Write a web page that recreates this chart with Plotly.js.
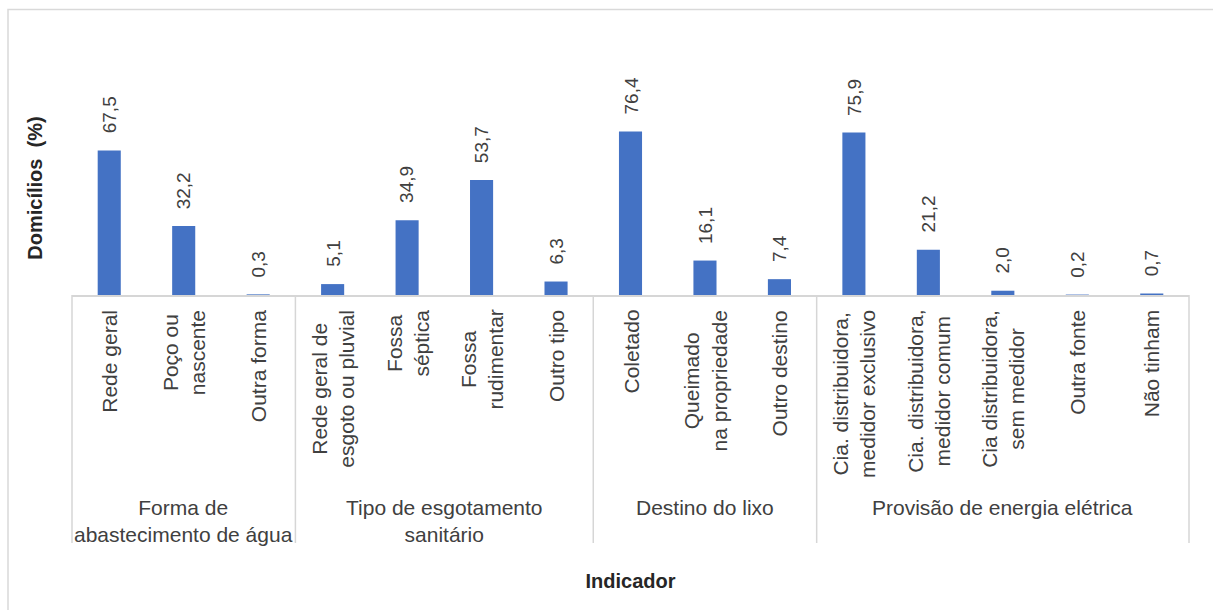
<!DOCTYPE html>
<html>
<head>
<meta charset="utf-8">
<script src="https://cdn.plot.ly/plotly-3.0.1.min.js"></script>
<style>
  html, body { margin: 0; padding: 0; background: #ffffff; }
  #chart { width: 1213px; height: 610px; }
</style>
</head>
<body>
<div id="chart"></div>
<script>
// ---- Data ----
const groups = [
  'Forma de<br>abastecimento de água',
  'Tipo de esgotamento<br>sanitário',
  'Destino do lixo',
  'Provisão de energia elétrica'
];
const groupSizes = [3, 4, 3, 5];
const items = [
  'Rede geral',
  'Poço ou<br>nascente',
  'Outra forma',
  'Rede geral de<br>esgoto ou pluvial',
  'Fossa<br>séptica',
  'Fossa<br>rudimentar',
  'Outro tipo',
  'Coletado',
  'Queimado<br>na propriedade',
  'Outro destino',
  'Cia. distribuidora,<br>medidor exclusivo',
  'Cia. distribuidora,<br>medidor comum',
  'Cia distribuidora,<br>sem medidor',
  'Outra fonte',
  'Não tinham'
];
const values = [67.5, 32.2, 0.3, 5.1, 34.9, 53.7, 6.3, 76.4, 16.1, 7.4, 75.9, 21.2, 2.0, 0.2, 0.7];
const yTitle = 'Domicílios\u00A0 (%)';
const xTitle = 'Indicador';

// ---- Layout geometry (pixels) ----
const W = 1213, H = 610;
const L = 72, R = 1189, T = 81, B = 295;
const px2x = p => (p - L) / (R - L);
const py2y = p => (B - p) / (B - T);

const FONT = 'Liberation Sans, Arial, sans-serif';
const TXT = '#404040';
const LINE = '#d6d6d6';
const n = items.length;

const annotations = [];
const shapes = [];

// data labels and category labels
items.forEach((it, i) => {
  annotations.push({
    x: it, y: values[i], xref: 'x', yref: 'y',
    text: values[i].toFixed(1).replace('.', ','),
    showarrow: false, textangle: -90,
    xanchor: 'center', yanchor: 'bottom', yshift: 15,
    font: { family: FONT, size: 19, color: TXT }
  });
  annotations.push({
    x: it, y: 0, xref: 'x', yref: 'paper',
    text: it, showarrow: false, textangle: -90, align: 'center',
    xanchor: 'center', yanchor: 'top', yshift: -13,
    font: { family: FONT, size: 21, color: TXT }
  });
});

// group labels and separators
let start = 0;
const sepBottom = py2y(543);
shapes.push({ type: 'line', xref: 'paper', yref: 'paper', x0: 0, x1: 0, y0: 0, y1: sepBottom,
  line: { color: LINE, width: 1.5 } });
groups.forEach((g, k) => {
  const size = groupSizes[k];
  const center = (start + size / 2) / n;
  annotations.push({
    x: center, y: 0, xref: 'paper', yref: 'paper',
    text: g, showarrow: false, align: 'center',
    xanchor: 'center', yanchor: 'top', yshift: -199,
    font: { family: FONT, size: 21, color: TXT }
  });
  start += size;
  const xe = start / n;
  shapes.push({ type: 'line', xref: 'paper', yref: 'paper', x0: xe, x1: xe, y0: 0, y1: sepBottom,
    line: { color: LINE, width: 1.5 } });
});

// outer chart border
shapes.push({ type: 'rect', xref: 'paper', yref: 'paper', layer: 'below',
  x0: px2x(8), x1: px2x(W + 20), y0: py2y(H + 20), y1: py2y(9.5),
  line: { color: '#d9d9d9', width: 1.5 }, fillcolor: 'rgba(0,0,0,0)' });

const trace = {
  type: 'bar', x: items, y: values,
  marker: { color: '#4472C4' },
  hoverinfo: 'none'
};

const layout = {
  width: W, height: H,
  margin: { l: L, r: W - R, t: T, b: H - B, pad: 0 },
  paper_bgcolor: '#ffffff', plot_bgcolor: '#ffffff',
  separators: ',.',
  showlegend: false,
  bargap: 0.69,
  font: { family: FONT, color: TXT },
  xaxis: {
    type: 'category', range: [-0.5, n - 0.5],
    showticklabels: false, ticks: '', showgrid: false, zeroline: false,
    showline: true, linecolor: LINE, linewidth: 1.5,
    fixedrange: true, automargin: false,
    title: { text: '<b>' + xTitle + '</b>', standoff: 278,
      font: { family: FONT, size: 20, color: '#262626' } }
  },
  yaxis: {
    range: [0, 100], showticklabels: false, ticks: '', showgrid: false,
    zeroline: false, showline: false, fixedrange: true, automargin: false,
    title: { text: '<b>' + yTitle + '</b>', standoff: 23,
      font: { family: FONT, size: 20, color: '#262626' } }
  },
  annotations: annotations,
  shapes: shapes
};

Plotly.newPlot('chart', [trace], layout, { displayModeBar: false, staticPlot: true });
</script>
</body>
</html>
